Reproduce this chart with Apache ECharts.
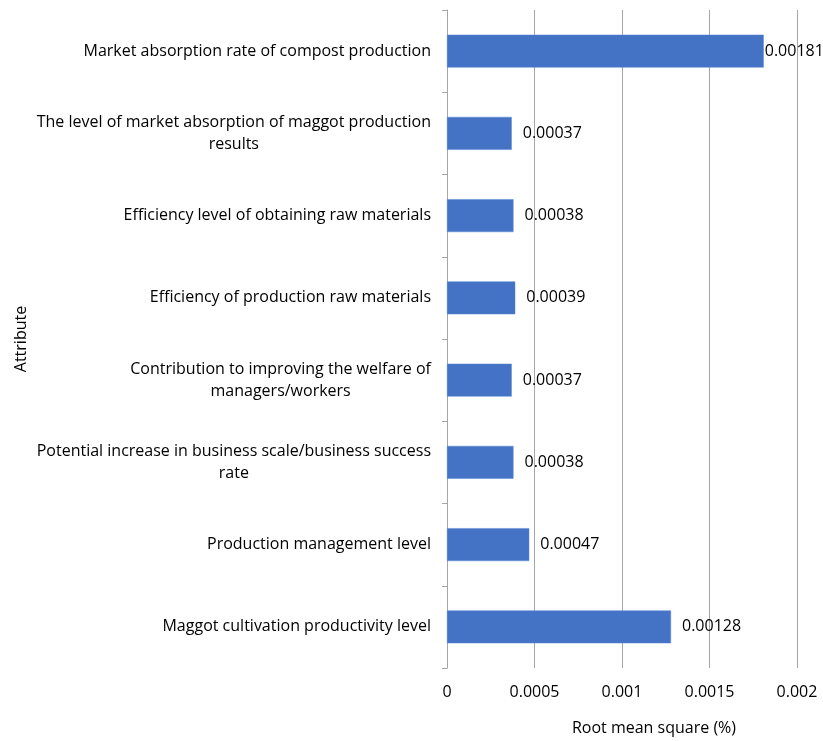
<!DOCTYPE html>
<html>
<head>
<meta charset="utf-8">
<script src="https://cdn.jsdelivr.net/npm/echarts@6/dist/echarts.min.js"></script>
<style>html,body{margin:0;padding:0;background:#fff;}#c{width:823px;height:741px;}</style>
</head>
<body>
<div id="c"></div>
<script>
const categories = [
  "Market absorption rate of compost production",
  "The level of market absorption of maggot production\nresults",
  "Efficiency level of obtaining raw materials",
  "Efficiency of production raw materials",
  "Contribution to improving the welfare of\nmanagers/workers",
  "Potential increase in business scale/business success\nrate",
  "Production management level",
  "Maggot cultivation productivity level"
];
const values = [0.00181, 0.00037, 0.00038, 0.00039, 0.00037, 0.00038, 0.00047, 0.00128];
const xTicks = [0, 0.0005, 0.001, 0.0015, 0.002];

const font = "'Open Sans', 'Liberation Sans', sans-serif";
const fs = 16;
const chart = echarts.init(document.getElementById('c'));
chart.setOption({
  animation: false,
  backgroundColor: '#fff',
  grid: { left: 447, right: 26, top: 10, bottom: 73, outerBoundsMode: 'none', containLabel: false },
  xAxis: {
    type: 'value', min: 0, max: 0.002, interval: 0.0005,
    name: 'Root mean square (%)', nameLocation: 'middle', nameGap: 52,
    nameTextStyle: { color: '#000', fontSize: fs, fontFamily: font, padding: [0, 0, 0, 64] },
    axisLine: { show: false }, axisTick: { show: false },
    axisLabel: { color: '#000', fontSize: fs, fontFamily: font, margin: 16,
      formatter: v => { const t = xTicks.find(x => Math.abs(x - v) < 1e-9); return t === undefined ? '' : String(t); } },
    splitLine: { show: true, lineStyle: { color: '#a6a6a6', width: 1 } }
  },
  yAxis: {
    type: 'category', data: categories, inverse: true,
    name: 'Attribute', nameLocation: 'middle', nameGap: 418,
    nameTextStyle: { color: '#000', fontSize: fs, fontFamily: font },
    axisLine: { show: true, lineStyle: { color: '#a6a6a6' } },
    axisTick: { show: true, length: 5, lineStyle: { color: '#a6a6a6' } },
    axisLabel: {
      margin: 16, color: '#000', fontSize: fs, fontFamily: font,
      formatter: v => '{a|' + v + '}',
      rich: { a: { align: 'center', color: '#000', fontSize: fs, fontFamily: font, lineHeight: 22 } }
    }
  },
  series: [{
    type: 'bar', data: values.map((v, i) => ({ value: v, label: { distance: i === 0 ? 1 : 11 } })),
    barWidth: '40%',
    itemStyle: { color: '#4472C4', borderColor: '#5b8ad6', borderWidth: 0.5 },
    label: { show: true, position: 'right', color: '#000', fontSize: fs, fontFamily: font,
      formatter: p => String(p.value) }
  }]
});
</script>
</body>
</html>
